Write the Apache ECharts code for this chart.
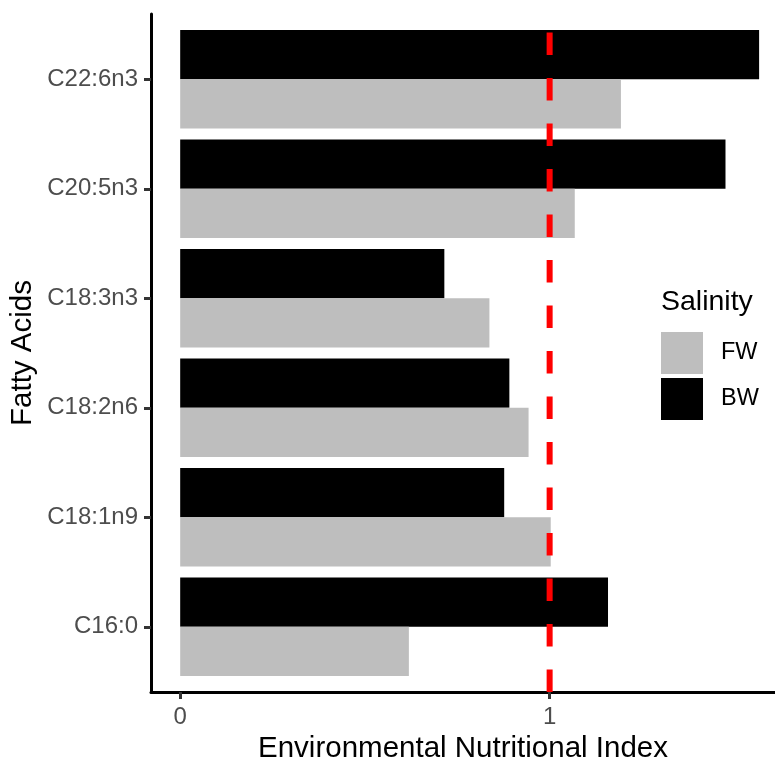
<!DOCTYPE html>
<html>
<head>
<meta charset="utf-8">
<script src="https://cdn.jsdelivr.net/npm/echarts@6/dist/echarts.min.js"></script>
<style>
html,body{margin:0;padding:0;background:#fff;}
#chart{width:775px;height:763px;}
</style>
</head>
<body>
<div id="chart"></div>
<script>
var categories = ['C16:0', 'C18:1n9', 'C18:2n6', 'C18:3n3', 'C20:5n3', 'C22:6n3'];
var fwValues = [0.619, 1.003, 0.943, 0.837, 1.068, 1.193];
var bwValues = [1.158, 0.877, 0.891, 0.715, 1.476, 1.567];
var xTickValues = [0, 1];
var referenceValue = [1];
var seriesNames = ['FW', 'BW'];

var FONT = 'Liberation Sans, Arial, sans-serif';
var chart = echarts.init(document.getElementById('chart'), null, {renderer: 'canvas'});

var option = {
  animation: false,
  backgroundColor: '#ffffff',
  textStyle: {fontFamily: FONT},
  title: {
    text: 'Salinity',
    left: 661,
    top: 288,
    padding: 0,
    textStyle: {fontFamily: FONT, fontSize: 28.5, fontWeight: 'normal', color: '#000000'}
  },
  legend: {
    data: seriesNames,
    orient: 'vertical',
    left: 661,
    top: 332,
    padding: 0,
    icon: 'rect',
    itemWidth: 42,
    itemHeight: 42,
    itemGap: 4,
    selectedMode: false,
    textStyle: {fontFamily: FONT, fontSize: 23.5, color: '#000000', padding: [0, 0, 0, 13]}
  },
  grid: [
    {left: 151, right: 0, top: 14, bottom: 71, containLabel: false, outerBoundsMode: 'none'},
    {left: 151, right: 0, top: 24.5, bottom: 81.5, containLabel: false, outerBoundsMode: 'none'}
  ],
  xAxis: [
    {
      type: 'value', gridIndex: 0, min: -0.079, max: 1.61,
      name: 'Environmental Nutritional Index',
      nameLocation: 'middle', nameGap: 42,
      nameTextStyle: {fontFamily: FONT, fontSize: 29.5, color: '#000000'},
      axisLine: {show: true, onZero: false, lineStyle: {color: '#000000', width: 3}},
      axisTick: {show: true, customValues: xTickValues, length: 7, lineStyle: {color: '#333333', width: 3}},
      axisLabel: {show: true, customValues: xTickValues, margin: 13, fontFamily: FONT, fontSize: 24, color: '#4D4D4D'},
      splitLine: {show: false}
    },
    {
      type: 'value', gridIndex: 1, min: -0.079, max: 1.61, show: false,
      splitLine: {show: false}
    }
  ],
  yAxis: [
    {
      type: 'value', gridIndex: 0, min: 0, max: 1,
      name: 'Fatty Acids', nameLocation: 'middle', nameGap: 113, nameRotate: 90,
      nameTextStyle: {fontFamily: FONT, fontSize: 29.5, color: '#000000'},
      axisLine: {show: true, onZero: false, lineStyle: {color: '#000000', width: 3}},
      axisTick: {show: false}, axisLabel: {show: false}, splitLine: {show: false}
    },
    {
      type: 'category', gridIndex: 1, data: categories,
      axisLine: {show: false, onZero: false},
      axisTick: {show: true, alignWithLabel: true, length: 7, lineStyle: {color: '#333333', width: 3}},
      axisLabel: {margin: 13, fontFamily: FONT, fontSize: 24, color: '#4D4D4D'},
      splitLine: {show: false}
    }
  ],
  series: [
    {
      name: 'BW', type: 'bar', xAxisIndex: 1, yAxisIndex: 1,
      data: bwValues, barGap: '0%', barCategoryGap: '10%',
      itemStyle: {color: '#000000'}, z: 2, silent: true
    },
    {
      name: 'FW', type: 'bar', xAxisIndex: 1, yAxisIndex: 1,
      data: fwValues, barGap: '0%', barCategoryGap: '10%',
      itemStyle: {color: '#BEBEBE'}, z: 2, silent: true
    },
    {
      name: 'ref', type: 'line', xAxisIndex: 0, yAxisIndex: 0,
      data: [[referenceValue[0], 0], [referenceValue[0], 1]],
      showSymbol: false, symbol: 'none', silent: true, z: 5,
      lineStyle: {color: '#FF0000', width: 6, type: [22.5, 23]}
    }
  ]
};
chart.setOption(option);
</script>
</body>
</html>
